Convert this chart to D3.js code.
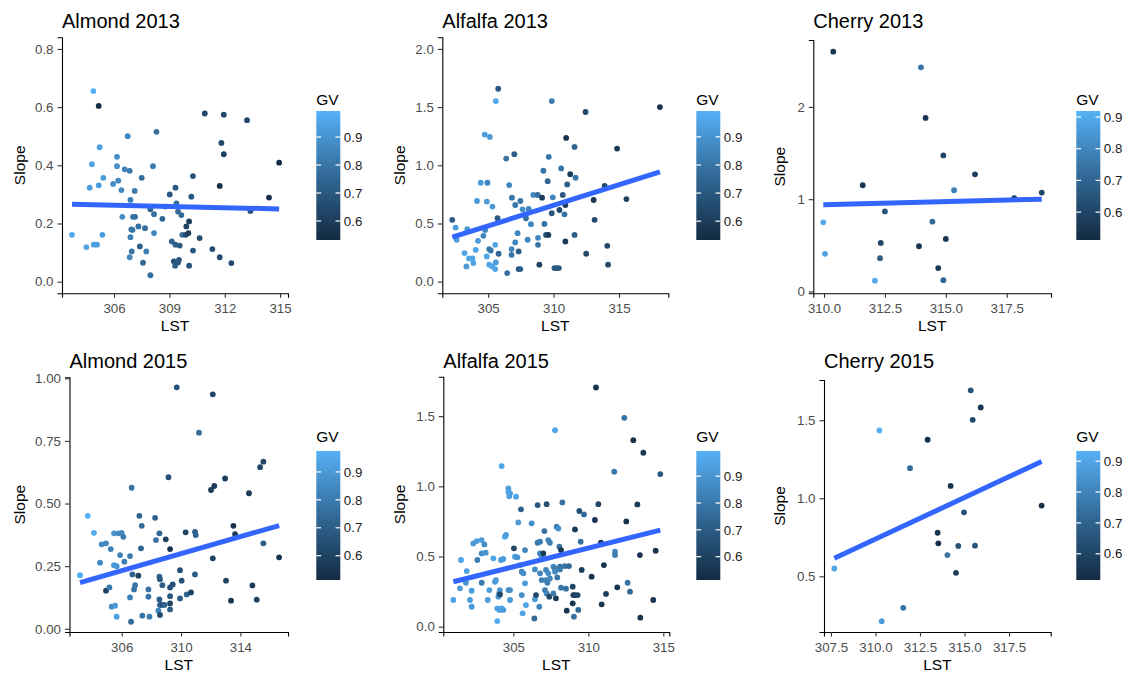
<!DOCTYPE html>
<html>
<head>
<meta charset="utf-8">
<title>Slope vs LST</title>
<script src="https://cdn.jsdelivr.net/npm/d3@7"></script>
<style>
body { margin: 0; background: #fff; }
text { font-family: "Liberation Sans", Arial, Helvetica, sans-serif; }
</style>
</head>
<body>
<svg id="chart" width="1131" height="674"></svg>
<script>
// points are [LST, Slope, GV]
var almond2013 = [
[303.72,0.161,0.97],[304.50,0.119,0.95],[304.90,0.127,0.95],[305.08,0.127,0.94],[304.88,0.655,0.99],[305.17,0.604,0.54],
[304.68,0.323,0.93],[304.80,0.404,0.95],[305.22,0.462,0.95],[305.17,0.331,0.93],[305.42,0.357,0.92],[305.37,0.161,0.93],
[305.95,0.336,0.88],[306.16,0.429,0.88],[306.16,0.397,0.89],[306.23,0.347,0.87],[306.40,0.315,0.87],[306.58,0.386,0.85],
[306.85,0.381,0.82],[306.74,0.500,0.86],[306.45,0.223,0.88],[306.89,0.281,0.83],[306.94,0.180,0.80],[306.89,0.153,0.84],
[307.00,0.178,0.80],[306.85,0.084,0.86],[306.96,0.104,0.80],[307.03,0.223,0.80],[307.14,0.223,0.78],[307.12,0.312,0.82],
[307.32,0.190,0.78],[307.40,0.121,0.72],[307.50,0.357,0.78],[307.57,0.065,0.75],[307.68,0.184,0.78],[307.75,0.104,0.84],
[307.97,0.022,0.78],[307.97,0.249,0.75],[308.11,0.397,0.82],[308.17,0.232,0.78],[308.17,0.167,0.86],[308.30,0.515,0.77],
[308.62,0.216,0.75],[308.78,0.258,0.75],[309.02,0.300,0.70],[309.13,0.138,0.75],[309.33,0.323,0.70],[309.24,0.070,0.68],
[309.31,0.055,0.72],[309.33,0.127,0.72],[309.38,0.269,0.78],[309.47,0.066,0.70],[309.52,0.075,0.70],[309.56,0.124,0.70],
[309.47,0.241,0.76],[309.65,0.229,0.76],[309.70,0.161,0.78],[309.92,0.190,0.62],[309.89,0.161,0.65],[310.03,0.167,0.60],
[310.07,0.207,0.60],[310.07,0.055,0.68],[310.19,0.292,0.70],[310.28,0.363,0.68],[310.28,0.107,0.70],[310.64,0.150,0.66],
[310.92,0.578,0.65],[311.33,0.112,0.66],[311.73,0.329,0.55],[311.73,0.084,0.65],[311.82,0.477,0.65],[311.95,0.574,0.65],
[311.95,0.438,0.62],[312.36,0.064,0.65],[313.21,0.555,0.65],[313.39,0.243,0.67],[314.40,0.289,0.55],[314.95,0.409,0.53]
];
var alfalfa2013 = [
[302.26,0.531,0.72],[302.52,0.465,0.93],[302.60,0.360,0.93],[303.41,0.451,0.92],[303.20,0.245,0.95],[303.34,0.131,0.92],
[303.54,0.200,0.95],[303.80,0.200,0.95],[303.87,0.160,0.95],[304.05,0.274,0.95],[304.15,0.693,0.92],[304.23,0.351,0.92],
[304.44,0.850,0.92],[304.64,0.394,0.85],[304.77,0.445,0.85],[304.74,1.264,0.93],[304.90,0.688,0.92],[304.95,0.850,0.85],
[304.90,0.217,0.95],[305.08,0.280,0.82],[305.08,0.146,0.95],[305.13,1.244,0.92],[305.20,0.268,0.80],[305.33,0.645,0.92],
[305.33,0.131,0.95],[305.54,0.317,0.95],[305.54,0.108,0.96],[305.59,0.165,0.92],[305.59,1.552,0.96],[305.77,1.658,0.70],
[305.72,0.545,0.70],[305.80,0.240,0.75],[306.46,0.074,0.78],[306.38,1.058,0.80],[306.61,0.830,0.86],[306.79,0.231,0.80],
[306.79,0.280,0.86],[306.82,0.722,0.80],[307.00,1.096,0.72],[307.07,0.659,0.80],[307.07,0.337,0.86],[307.25,0.417,0.86],
[307.33,0.260,0.72],[307.33,0.108,0.70],[307.46,0.108,0.72],[307.46,0.693,0.80],[307.63,0.622,0.88],[307.89,0.545,0.78],
[308.02,0.360,0.86],[308.10,0.625,0.86],[308.27,0.494,0.86],[308.45,0.745,0.86],[308.79,0.745,0.78],[308.81,0.317,0.80],
[308.81,0.377,0.86],[308.91,0.146,0.62],[309.12,0.722,0.60],[309.22,0.953,0.80],[309.30,0.496,0.78],[309.42,0.402,0.68],
[309.55,0.864,0.75],[309.63,1.073,0.80],[309.60,0.402,0.60],[309.86,0.588,0.70],[309.86,1.552,0.82],[309.94,0.725,0.86],
[310.06,0.117,0.72],[310.24,0.117,0.70],[310.40,0.117,0.70],[310.45,0.616,0.65],[310.58,0.973,0.80],[310.70,0.745,0.70],
[310.83,0.579,0.80],[310.90,0.659,0.60],[310.90,0.345,0.60],[310.96,1.235,0.57],[311.04,0.836,0.72],[311.27,0.924,0.60],
[311.60,1.158,0.75],[311.68,0.893,0.80],[311.60,0.402,0.72],[312.44,1.458,0.65],[312.49,0.240,0.65],[313.06,0.702,0.58],
[313.13,0.531,0.65],[313.90,0.822,0.65],[314.10,0.308,0.65],[314.16,0.146,0.65],[314.85,1.144,0.58],[315.56,0.710,0.62],
[318.12,1.500,0.56]
];
var cherry2013 = [
[310.38,2.598,0.55],[309.97,0.749,0.90],[310.04,0.408,0.88],[311.59,1.151,0.55],[312.09,0.117,0.90],[312.30,0.361,0.68],
[312.33,0.526,0.60],[312.50,0.867,0.65],[313.90,0.490,0.55],[313.98,2.429,0.75],[314.17,1.880,0.55],[314.45,0.756,0.72],
[314.69,0.253,0.55],[314.90,1.474,0.60],[314.90,0.122,0.70],[315.00,0.569,0.55],[315.34,1.097,0.78],[316.20,1.269,0.58],
[317.81,1.011,0.58],[318.94,1.072,0.60]
];
var almond2015 = [
[303.19,0.214,0.95],[303.71,0.451,0.97],[304.13,0.383,0.95],[304.54,0.264,0.85],[304.65,0.337,0.85],[304.94,0.341,0.85],
[304.94,0.152,0.60],[305.17,0.165,0.80],[305.26,0.318,0.82],[305.33,0.088,0.85],[305.48,0.254,0.90],[305.55,0.092,0.90],
[305.48,0.381,0.88],[305.66,0.048,0.92],[305.66,0.250,0.88],[305.78,0.381,0.85],[305.89,0.294,0.82],[306.00,0.383,0.85],
[306.11,0.367,0.80],[306.18,0.268,0.82],[306.56,0.290,0.80],[306.56,0.125,0.82],[306.67,0.563,0.78],[306.63,0.028,0.75],
[306.72,0.217,0.72],[306.83,0.157,0.78],[306.90,0.174,0.78],[307.12,0.212,0.60],[307.19,0.451,0.72],[307.30,0.321,0.72],
[307.35,0.411,0.75],[307.39,0.052,0.78],[307.80,0.157,0.78],[307.80,0.128,0.78],[307.87,0.048,0.80],[308.25,0.443,0.72],
[308.31,0.354,0.78],[308.47,0.072,0.82],[308.54,0.117,0.70],[308.54,0.381,0.72],[308.54,0.208,0.72],[308.58,0.198,0.68],
[308.58,0.055,0.62],[308.58,0.095,0.70],[308.74,0.095,0.65],[308.74,0.174,0.70],[308.88,0.095,0.72],[308.97,0.357,0.60],
[309.15,0.605,0.65],[309.26,0.318,0.55],[309.26,0.165,0.65],[309.26,0.130,0.68],[309.26,0.101,0.60],[309.26,0.077,0.70],
[309.44,0.177,0.65],[309.71,0.964,0.65],[309.93,0.234,0.65],[309.93,0.121,0.70],[310.04,0.192,0.65],[310.31,0.385,0.60],
[310.38,0.137,0.72],[310.67,0.145,0.60],[310.94,0.387,0.70],[310.99,0.374,0.72],[310.94,0.217,0.70],[311.21,0.783,0.75],
[312.14,0.936,0.62],[315.55,0.667,0.62],[315.33,0.645,0.62],[312.97,0.600,0.58],[312.02,0.554,0.58],[312.24,0.570,0.58],
[314.58,0.541,0.58],[313.53,0.411,0.54],[313.64,0.378,0.58],[315.55,0.341,0.70],[316.61,0.285,0.55],[312.14,0.281,0.60],
[313.03,0.192,0.60],[314.81,0.173,0.58],[313.37,0.112,0.55],[315.10,0.116,0.60]
];
var alfalfa2015 = [
[301.00,0.190,0.95],[301.51,0.475,0.95],[301.44,0.273,0.93],[301.89,0.396,0.93],[301.84,0.313,0.90],[302.11,0.190,0.93],
[302.22,0.142,0.92],[302.22,0.256,0.93],[302.33,0.593,0.92],[302.56,0.610,0.92],[302.60,0.475,0.82],[302.89,0.617,0.92],
[303.07,0.586,0.88],[302.89,0.522,0.88],[303.16,0.527,0.90],[302.89,0.313,0.82],[303.40,0.261,0.92],[303.29,0.190,0.93],
[303.67,0.487,0.95],[303.78,0.320,0.93],[303.84,0.332,0.92],[304.00,0.214,0.92],[304.05,0.237,0.93],[304.10,0.261,0.90],
[303.93,0.130,0.95],[304.07,0.119,0.93],[304.22,0.130,0.95],[304.33,0.119,0.92],[303.93,0.040,0.97],[304.22,1.144,0.95],
[304.18,0.475,0.90],[304.33,0.482,0.92],[304.44,0.641,0.95],[304.51,0.653,0.93],[304.11,0.230,0.62],[304.67,0.985,0.93],
[304.78,0.950,0.92],[304.73,0.930,0.93],[304.67,0.960,0.95],[304.67,0.261,0.90],[304.78,0.261,0.88],[305.18,0.926,0.95],
[304.78,0.190,0.92],[305.11,0.498,0.92],[305.27,0.494,0.90],[305.04,0.558,0.62],[305.33,0.743,0.92],[305.51,0.836,0.72],
[305.44,0.439,0.90],[305.56,0.392,0.85],[305.67,0.380,0.88],[305.78,0.309,0.92],[305.84,0.154,0.95],[305.56,0.225,0.88],
[305.62,0.095,0.95],[305.78,0.546,0.85],[306.22,0.736,0.88],[306.44,0.195,0.92],[306.44,0.408,0.88],[306.78,0.380,0.85],
[306.62,0.866,0.68],[306.62,0.598,0.80],[306.78,0.605,0.82],[306.51,0.225,0.62],[306.73,0.142,0.85],[306.78,0.522,0.85],
[306.89,0.498,0.88],[306.40,0.059,0.75],[307.07,0.681,0.78],[307.22,0.873,0.65],[307.33,0.617,0.85],[307.44,0.598,0.82],
[307.18,0.404,0.85],[307.33,0.380,0.88],[307.00,0.522,0.58],[306.89,0.332,0.82],[307.18,0.332,0.85],[307.27,0.313,0.82],
[307.44,0.344,0.85],[307.11,0.261,0.82],[307.22,0.237,0.85],[307.40,0.214,0.62],[307.67,0.237,0.82],[307.67,0.427,0.88],
[307.78,0.415,0.82],[307.78,0.392,0.85],[307.93,0.351,0.80],[307.89,0.712,0.82],[308.00,0.700,0.88],[307.78,1.400,0.95],
[308.07,0.570,0.78],[310.51,1.704,0.55],[312.40,1.488,0.78],[313.00,1.329,0.55],[313.67,1.239,0.55],[311.73,1.104,0.80],
[314.80,1.087,0.68],[308.27,0.885,0.78],[309.40,0.824,0.65],[309.71,0.800,0.75],[310.67,0.873,0.62],[310.44,0.760,0.55],
[313.27,0.871,0.58],[312.53,0.750,0.55],[309.11,0.693,0.58],[309.49,0.605,0.78],[310.84,0.598,0.58],[311.78,0.534,0.85],
[311.78,0.510,0.82],[313.44,0.510,0.55],[314.49,0.541,0.55],[308.18,0.546,0.55],[308.11,0.427,0.78],[308.11,0.408,0.82],
[308.44,0.432,0.78],[308.71,0.432,0.75],[309.56,0.404,0.58],[311.04,0.439,0.55],[310.22,0.356,0.55],[308.18,0.278,0.80],
[308.51,0.271,0.78],[308.96,0.285,0.62],[307.84,0.202,0.58],[309.00,0.225,0.58],[309.11,0.225,0.60],[309.29,0.225,0.62],
[308.96,0.166,0.55],[308.56,0.114,0.55],[309.04,0.071,0.78],[309.33,0.119,0.75],[310.89,0.159,0.55],[311.18,0.233,0.58],
[311.93,0.280,0.55],[312.62,0.313,0.78],[312.78,0.249,0.75],[313.47,0.064,0.55],[314.33,0.190,0.55]
];
var cherry2015 = [
[307.69,0.550,0.90],[310.22,1.435,0.93],[310.35,0.212,0.88],[311.56,0.298,0.75],[311.94,1.193,0.72],[312.93,1.375,0.53],
[313.49,0.779,0.55],[313.53,0.711,0.53],[314.04,0.636,0.75],[314.22,1.079,0.55],[314.52,0.522,0.58],[314.65,0.694,0.65],
[314.97,0.910,0.65],[315.35,1.692,0.65],[315.46,1.503,0.62],[315.59,0.696,0.65],[315.91,1.582,0.55],[319.33,0.953,0.53]
];

// fitted Slope at the lowest and highest LST of each panel
var almond2013Fit = [0.266, 0.250];
var alfalfa2013Fit = [0.382, 0.944];
var cherry2013Fit = [0.939, 1.000];
var almond2015Fit = [0.184, 0.412];
var alfalfa2015Fit = [0.320, 0.688];
var cherry2015Fit = [0.615, 1.236];

var titles = ["Almond 2013", "Alfalfa 2013", "Cherry 2013", "Almond 2015", "Alfalfa 2015", "Cherry 2015"];
var xTicks = [[306, 309, 312, 315], [305, 310, 315], [310, 312.5, 315, 317.5],
              [306, 310, 314], [305, 310, 315], [307.5, 310, 312.5, 315, 317.5]];
var yTicks = [[0, 0.2, 0.4, 0.6, 0.8], [0, 0.5, 1, 1.5, 2], [0, 1, 2],
              [0, 0.25, 0.5, 0.75, 1], [0, 0.5, 1, 1.5], [0.5, 1, 1.5]];
var xLimits = [[303.18, 315.43], [301.5, 318.76], [309.56, 319.32],
               [302.48, 317.21], [300.33, 315.4], [307.11, 319.84]];
var yLimits = [[-0.04, 0.84], [-0.1, 2.1], [-0.02, 2.725],
               [-0.013, 1.004], [-0.038, 1.781], [0.143, 1.758]];
var gvLimits = [[0.532, 0.993], [0.533, 0.992], [0.512, 0.919],
                [0.513, 0.975], [0.513, 0.994], [0.515, 0.933]];
var gvBreaks = [0.6, 0.7, 0.8, 0.9];

var series = [almond2013, alfalfa2013, cherry2013, almond2015, alfalfa2015, cherry2015];
var fits = [almond2013Fit, alfalfa2013Fit, cherry2013Fit, almond2015Fit, alfalfa2015Fit, cherry2015Fit];
var xFormats = ["d", "d", ".1f", "d", "d", ".1f"];
var yFormats = [".1f", ".1f", "d", ".2f", ".1f", ".1f"];

// panel boxes
var layout = [
  {cx: 0,   left: 62,    right: 288,    top: 37.3,  bottom: 293.3, dy: 0},
  {cx: 380, left: 442.3, right: 668.3,  top: 37.3,  bottom: 293.3, dy: 0},
  {cx: 760, left: 813.3, right: 1051,   top: 40,    bottom: 293.3, dy: 0},
  {cx: 0,   left: 69.5,  right: 288,    top: 377.3, bottom: 632,   dy: 340},
  {cx: 380, left: 443.3, right: 669.3,  top: 376.7, bottom: 632,   dy: 340},
  {cx: 760, left: 824,   right: 1050.7, top: 380,   bottom: 632,   dy: 340}
];

var svg = d3.select("#chart");
var defs = svg.append("defs");
var lowCol = "#132B43", highCol = "#56B1F7";
var tickCol = "#4D4D4D";

series.forEach(function (data, i) {
  var L = layout[i];
  var g = svg.append("g");

  var x = d3.scaleLinear().domain(xLimits[i]).range([L.left, L.right]);
  var y = d3.scaleLinear().domain(yLimits[i]).range([L.bottom, L.top]);
  var colour = d3.scaleLinear().domain(gvLimits[i]).range([lowCol, highCol])
      .interpolate(d3.interpolateLab).clamp(true);

  // axes
  var xa = g.append("g").attr("transform", "translate(0," + L.bottom + ")")
    .call(d3.axisBottom(x).tickValues(xTicks[i]).tickFormat(d3.format(xFormats[i]))
      .tickSizeOuter(0).tickSize(4.5).tickPadding(6));
  var ya = g.append("g").attr("transform", "translate(" + L.left + ",0)")
    .call(d3.axisLeft(y).tickValues(yTicks[i]).tickFormat(d3.format(yFormats[i]))
      .tickSizeOuter(0).tickSize(4.5).tickPadding(4));
  [xa, ya].forEach(function (a) {
    a.select(".domain").attr("stroke", "#000").attr("stroke-width", 1.1);
    a.selectAll(".tick line").attr("stroke", "#333").attr("stroke-width", 1.1);
    a.selectAll(".tick text").attr("fill", tickCol).style("font-size", "13.3px")
      .style("font-family", "'Liberation Sans', Arial, sans-serif");
  });

  // points
  g.append("g").selectAll("circle").data(data).enter().append("circle")
    .attr("cx", function (d) { return x(d[0]); })
    .attr("cy", function (d) { return y(d[1]); })
    .attr("r", 2.9)
    .attr("fill", function (d) { return colour(d[2]); });

  // lm line
  var ext = d3.extent(data, function (d) { return d[0]; });
  g.append("line")
    .attr("x1", x(ext[0])).attr("y1", y(fits[i][0]))
    .attr("x2", x(ext[1])).attr("y2", y(fits[i][1]))
    .attr("stroke", "#3366FF").attr("stroke-width", 5);

  // titles
  g.append("text").attr("x", L.left).attr("y", 28 + L.dy)
    .style("font-size", "20px").attr("fill", "#000").text(titles[i]);
  g.append("text").attr("x", (L.left + L.right) / 2).attr("y", L.bottom + 37.5)
    .attr("text-anchor", "middle").style("font-size", "15.5px").text("LST");
  g.append("text")
    .attr("transform", "translate(" + (L.cx + 24.5) + "," + ((L.top + L.bottom) / 2) + ") rotate(-90)")
    .attr("text-anchor", "middle").style("font-size", "15.5px").text("Slope");

  // colour bar legend
  var bx = L.cx + 316.3, bw = 24, bTop = 111 + L.dy, bBot = 240 + L.dy;
  var gid = "grad" + i;
  var grad = defs.append("linearGradient").attr("id", gid)
    .attr("x1", 0).attr("y1", 1).attr("x2", 0).attr("y2", 0);
  d3.range(0, 1.0001, 0.05).forEach(function (t) {
    grad.append("stop").attr("offset", t)
      .attr("stop-color", colour(gvLimits[i][0] + t * (gvLimits[i][1] - gvLimits[i][0])));
  });
  var by = d3.scaleLinear().domain(gvLimits[i]).range([bBot, bTop]);
  g.append("text").attr("x", bx).attr("y", 104.5 + L.dy - (L.dy ? 3 : 0))
    .style("font-size", "15.5px").text("GV");
  g.append("rect").attr("x", bx).attr("y", bTop).attr("width", bw).attr("height", bBot - bTop)
    .attr("fill", "url(#" + gid + ")");
  var br = gvBreaks.filter(function (b) { return b >= gvLimits[i][0] && b <= gvLimits[i][1]; });
  g.append("g").selectAll("line.l").data(br).enter().append("line")
    .attr("x1", bx).attr("x2", bx + bw / 5)
    .attr("y1", function (d) { return by(d); }).attr("y2", function (d) { return by(d); })
    .attr("stroke", "#fff").attr("stroke-width", 1.2);
  g.append("g").selectAll("line.r").data(br).enter().append("line")
    .attr("x1", bx + bw - bw / 5).attr("x2", bx + bw)
    .attr("y1", function (d) { return by(d); }).attr("y2", function (d) { return by(d); })
    .attr("stroke", "#fff").attr("stroke-width", 1.2);
  g.append("g").selectAll("text").data(br).enter().append("text")
    .attr("x", bx + bw + 3.5).attr("y", function (d) { return by(d); })
    .attr("dy", "0.35em").style("font-size", "13.3px").attr("fill", "#1a1a1a")
    .text(d3.format(".1f"));
});
</script>
</body>
</html>
